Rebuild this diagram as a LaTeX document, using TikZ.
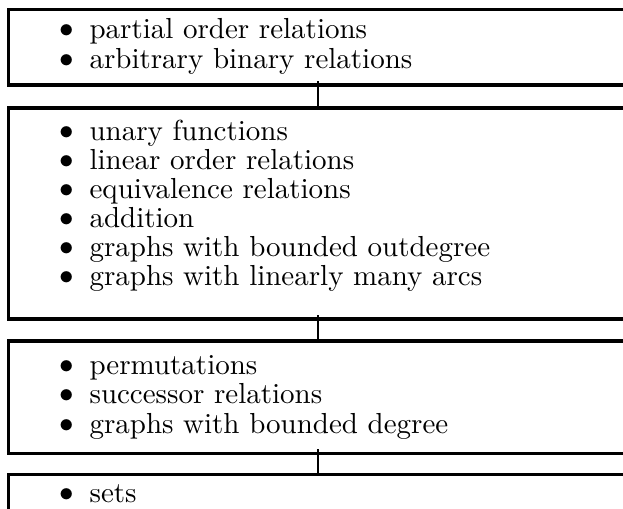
\documentclass[tikz,border=0pt]{standalone}
\usepackage{tikz}
\usetikzlibrary{calc}
\newlength{\px}
\setlength{\px}{0.345pt}
\tikzset{
	tier/.style={draw,line width=1.05pt,minimum width=619\px,inner sep=0pt},
	link/.style={line width=0.4pt},
	dot/.style={inner sep=0pt,anchor=center},
	entry/.style={inner sep=0pt,anchor=base west},
}
\newcommand{\Item}[3]{%
	\node[dot] (#1b) at (67,#2) {$\bullet$};
	\node[entry] (#1t) at (89,#2+7.25) {#3};
}

\begin{document}
\begin{tikzpicture}[x=\px,y=-\px]
	
	\useasboundingbox (0,0) rectangle (623,508);
	\clip (0,0) rectangle (623,508);
	
	% les quatre niveaux
	\node[tier,minimum height=75.5\px] (b1) at (318,47.25) {};
	\node[tier,minimum height=211\px] (b2) at (318,213.5) {};
	\node[tier,minimum height=112\px] (b3) at (318,397) {};
	\node[tier,minimum height=86\px] (b4) at (318,517) {};
	
	% liens entre niveaux
	\draw[link] ([yshift=1.9pt]b1.south) -- ([yshift=-1pt]b2.north);
	\draw[link] ([yshift=1.9pt]b2.south) -- ([yshift=-1pt]b3.north);
	\draw[link] ([yshift=1.9pt]b3.south) -- ([yshift=-1pt]b4.north);
	
	% niveau 1
	\Item{po}{31}{partial order relations}
	\Item{ab}{61}{arbitrary binary relations}
	
	% niveau 2
	\Item{un}{133}{unary functions}
	\Item{lo}{162}{linear order relations}
	\Item{eq}{191}{equivalence relations}
	\Item{ad}{220}{addition}
	\Item{bo}{249}{graphs with bounded outdegree}
	\Item{la}{278}{graphs with linearly many arcs}
	
	% niveau 3
	\Item{pe}{367}{permutations}
	\Item{su}{396.5}{successor relations}
	\Item{bd}{426}{graphs with bounded degree}
	
	% niveau 4
	\Item{se}{495}{sets}
	
\end{tikzpicture}
\end{document}
